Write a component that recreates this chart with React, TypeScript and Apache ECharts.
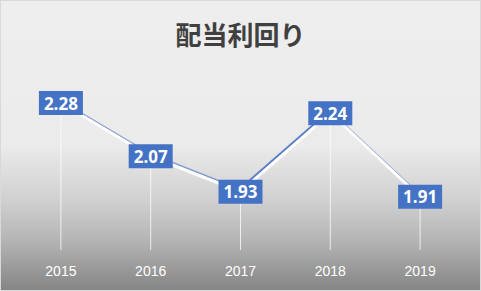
import React, { useEffect, useRef } from "react";
import * as echarts from "echarts";

const categories = ["2015", "2016", "2017", "2018", "2019"];
const yieldValues = [2.28, 2.07, 1.93, 2.24, 1.91];
const chartTitle = "配当利回り";

export default function App() {
  const ref = useRef<HTMLDivElement>(null);
  useEffect(() => {
    document.body.style.margin = "0";
    const chart = echarts.init(ref.current!, null, { renderer: "svg" });
    chart.setOption({
      animation: false,
      backgroundColor: {
        type: "linear",
        x: 0,
        y: 0,
        x2: 0,
        y2: 1,
        colorStops: [
          { offset: 0, color: "#eeeeee" },
          { offset: 0.5, color: "#ebebeb" },
          { offset: 0.69, color: "#d0d0d0" },
          { offset: 0.83, color: "#b4b4b4" },
          { offset: 1, color: "#858585" },
        ],
      },
      title: {
        text: chartTitle,
        left: "center",
        top: 14,
        textStyle: {
          fontFamily: "Noto Sans CJK JP",
          fontWeight: "bold",
          fontSize: 26,
          color: "#404040",
        },
      },
      grid: { left: 15, right: 15, top: 97, bottom: 40 },
      xAxis: {
        type: "category",
        data: categories,
        boundaryGap: true,
        axisLine: { show: false },
        axisTick: { show: false },
        splitLine: { show: false },
        axisLabel: {
          color: "#ffffff",
          fontSize: 14,
          fontFamily: "Liberation Sans",
          margin: 14,
        },
      },
      yAxis: {
        type: "value",
        min: 1.7,
        max: 2.3,
        show: false,
        splitLine: { show: false },
      },
      series: [
        {
          type: "bar",
          data: yieldValues,
          barWidth: 1,
          silent: true,
          itemStyle: { color: "rgba(255,255,255,0.75)" },
          z: 1,
        },
        {
          type: "line",
          data: yieldValues,
          symbol: "circle",
          symbolSize: 2,
          itemStyle: { color: "#ffffff" },
          lineStyle: {
            color: "#ffffff",
            width: 3,
            shadowColor: "#4472c4",
            shadowBlur: 0,
            shadowOffsetX: -1,
            shadowOffsetY: -1.5,
          },
          label: {
            show: true,
            position: "inside",
            backgroundColor: "#4472c4",
            color: "#ffffff",
            fontWeight: "bold",
            fontSize: 17,
            fontFamily: "Open Sans",
            padding: [4, 5, 3, 5],
            formatter: (p: any) => p.value.toFixed(2),
          },
          z: 3,
        },
      ],
    });
    return () => chart.dispose();
  }, []);
  return (
    <div
      ref={ref}
      style={{
        width: 481,
        height: 291,
        boxSizing: "border-box",
        border: "1px solid #d9d9d9",
      }}
    />
  );
}
